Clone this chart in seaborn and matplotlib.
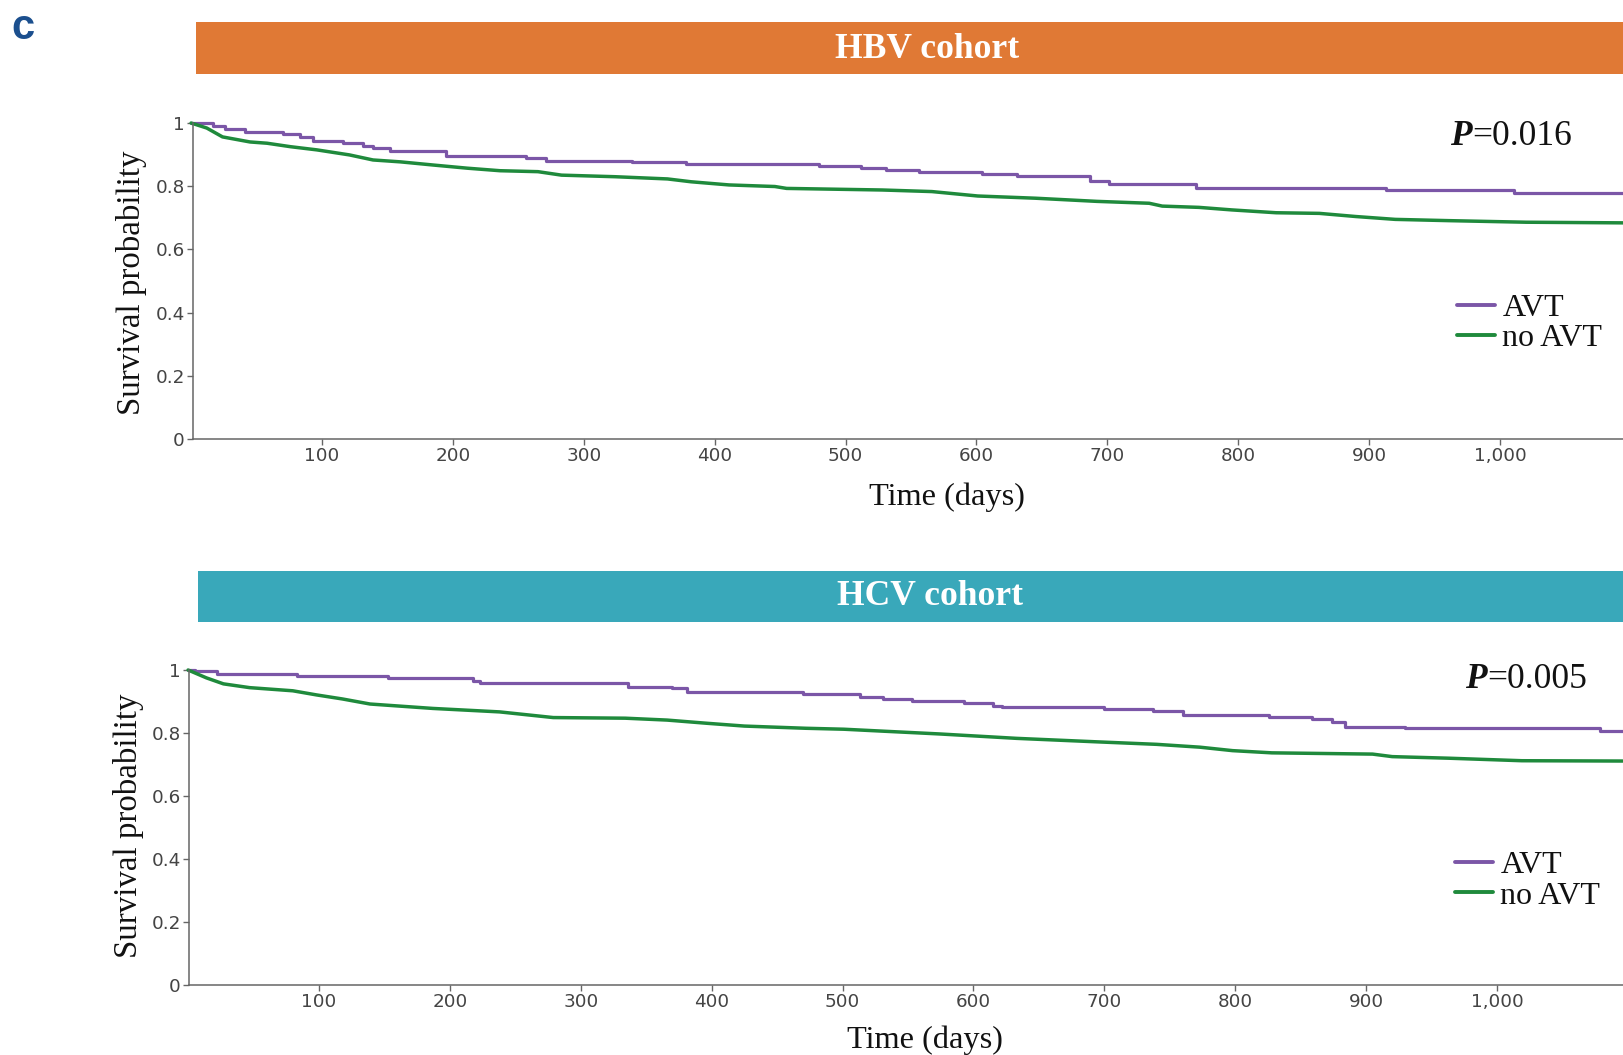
import matplotlib
matplotlib.use("Agg")
import matplotlib.pyplot as plt
from matplotlib.patches import Rectangle
from matplotlib.ticker import FixedLocator, FuncFormatter
import pandas as pd
import seaborn as sns

# ---- data (days, survival probability) ----
hbv_avt_days = [0, 17, 26, 41, 70, 83, 93, 116, 131, 139, 152, 195, 256, 271, 337, 378,
                480, 512, 531, 556, 604, 631, 687, 701, 768, 913, 1011, 1094]
hbv_avt_surv = [1.0, 0.99, 0.98, 0.97, 0.965, 0.955, 0.943, 0.937, 0.927, 0.92, 0.91, 0.896,
                0.888, 0.881, 0.877, 0.871, 0.864, 0.858, 0.851, 0.846, 0.839, 0.832, 0.816,
                0.807, 0.794, 0.788, 0.778, 0.778]

hbv_noavt_days = [0, 12, 24, 45, 58, 76, 96, 121, 139, 160, 185, 211, 236, 265, 283, 324, 364,
                  382, 411, 446, 455, 528, 566, 601, 645, 692, 732, 742, 770, 795, 829, 862,
                  890, 920, 961, 1020, 1094]
hbv_noavt_surv = [1.0, 0.984, 0.956, 0.94, 0.936, 0.925, 0.915, 0.899, 0.883, 0.877, 0.867,
                  0.857, 0.849, 0.846, 0.835, 0.83, 0.823, 0.814, 0.804, 0.799, 0.793, 0.788,
                  0.783, 0.769, 0.762, 0.752, 0.746, 0.737, 0.733, 0.725, 0.716, 0.714, 0.704,
                  0.695, 0.691, 0.686, 0.684]

hcv_avt_days = [0, 5, 22, 83, 153, 218, 223, 336, 370, 381, 470, 513, 531, 553, 593, 615, 622,
                700, 737, 760, 826, 859, 874, 884, 930, 1079, 1096]
hcv_avt_surv = [1.0, 0.997, 0.986, 0.981, 0.976, 0.966, 0.96, 0.947, 0.943, 0.931, 0.923,
                0.915, 0.908, 0.902, 0.894, 0.887, 0.882, 0.876, 0.870, 0.857, 0.850, 0.843,
                0.834, 0.82, 0.815, 0.807, 0.807]

hcv_noavt_days = [0, 14, 27, 47, 80, 98, 118, 139, 187, 238, 279, 334, 366, 396, 425, 472, 501,
                  530, 574, 612, 633, 694, 740, 773, 798, 828, 905, 920, 963, 1019, 1096]
hcv_noavt_surv = [1.0, 0.975, 0.956, 0.944, 0.934, 0.921, 0.908, 0.892, 0.878, 0.867, 0.849,
                  0.847, 0.841, 0.831, 0.822, 0.815, 0.812, 0.806, 0.797, 0.788, 0.783, 0.772,
                  0.764, 0.755, 0.744, 0.737, 0.733, 0.725, 0.720, 0.712, 0.711]

cohorts = ["HBV cohort", "HCV cohort"]
p_values = ["=0.016", "=0.005"]
x_ticks = [100, 200, 300, 400, 500, 600, 700, 800, 900, 1000]
y_ticks = [0, 0.2, 0.4, 0.6, 0.8, 1.0]

PURPLE = "#7b56a7"
GREEN = "#1f8a3c"
BANNER = ["#e07935", "#39a8ba"]
SERIF = "Liberation Serif"

sns.set_theme(style="white")
plt.rcParams.update({"font.family": ["DejaVu Sans"], "axes.linewidth": 1.1})

W, H = 1623, 1055
fig = plt.figure(figsize=(W / 100, H / 100), dpi=100)


def fx(x):
    return x / W


def fy(y):
    return 1 - y / H


# pixel layout of each panel: axes box, x-limits, banner, texts
layout = [
    dict(ax=(193, 123, 1623, 439), xlim=(1.45, 1094), banner=(196, 22, 74),
         title=(927.5, 57.7), ylab=(131.5, 283), xlab=(946.5, 505),
         p=(1472, 145), leg=(1457, 293.5)),
    dict(ax=(189, 670, 1623, 985), xlim=(0.7, 1096.3), banner=(198, 571, 622),
         title=(930, 605), ylab=(129, 825.5), xlab=(924.5, 1047.7),
         p=(1487, 688), leg=(1455, 850.5)),
]

series = [
    (hbv_avt_days, hbv_avt_surv, hbv_noavt_days, hbv_noavt_surv),
    (hcv_avt_days, hcv_avt_surv, hcv_noavt_days, hcv_noavt_surv),
]

for i, lay in enumerate(layout):
    x0, y0, x1, y1 = lay["ax"]
    ax = fig.add_axes([fx(x0), fy(y1), (x1 - x0) / W, (y1 - y0) / H])

    avt_d, avt_s, no_d, no_s = series[i]
    avt = pd.DataFrame({"days": avt_d, "surv": avt_s})
    noavt = pd.DataFrame({"days": no_d, "surv": no_s})
    sns.lineplot(data=avt, x="days", y="surv", ax=ax, color=PURPLE, lw=2.3,
                 drawstyle="steps-post", estimator=None, label="AVT", clip_on=False)
    sns.lineplot(data=noavt, x="days", y="surv", ax=ax, color=GREEN, lw=2.5,
                 estimator=None, label="no AVT", clip_on=False)

    ax.set_xlim(*lay["xlim"])
    ax.set_ylim(0, 1)
    ax.xaxis.set_major_locator(FixedLocator(x_ticks))
    ax.yaxis.set_major_locator(FixedLocator(y_ticks))
    ax.xaxis.set_major_formatter(FuncFormatter(lambda v, _: f"{int(v):,}"))
    ax.yaxis.set_major_formatter(FuncFormatter(lambda v, _: f"{v:g}"))
    ax.tick_params(axis="both", direction="out", length=4.5, width=1.0, pad=1.5,
                   labelsize=13.2, colors="#666666", labelcolor="#444444",
                   bottom=True, left=True)
    for side in ["top", "right"]:
        ax.spines[side].set_visible(False)
    for side in ["left", "bottom"]:
        ax.spines[side].set_color("#666666")

    ax.set_xlabel("Time (days)", family=SERIF, fontsize=23.3, color="#111111",
                  va="baseline", ha="center")
    ax.xaxis.set_label_coords(fx(lay["xlab"][0]), fy(lay["xlab"][1]), transform=fig.transFigure)
    ax.set_ylabel("Survival probability", family=SERIF, fontsize=23.7, color="#111111",
                  va="center", ha="center")
    ax.yaxis.set_label_coords(fx(lay["ylab"][0]), fy(lay["ylab"][1]), transform=fig.transFigure)

    leg = ax.legend(loc="upper left", bbox_to_anchor=(fx(lay["leg"][0]), fy(lay["leg"][1])),
                    bbox_transform=fig.transFigure, frameon=False, borderpad=0,
                    borderaxespad=0, handlelength=1.2, handletextpad=0.22,
                    labelspacing=0.04, prop={"family": SERIF, "size": 23})
    for line in leg.get_lines():
        line.set_linewidth(2.8)
    for t in leg.get_texts():
        t.set_color("#111111")

    # P value
    px, py = lay["p"]
    fig.text(fx(px), fy(py), "P", family=SERIF, style="italic", weight="bold",
             fontsize=25.5, ha="right", va="baseline", color="#111111")
    fig.text(fx(px), fy(py), p_values[i], family=SERIF, fontsize=25.5,
             ha="left", va="baseline", color="#111111")

    # cohort banner
    bx, by0, by1 = lay["banner"]
    fig.patches.append(Rectangle((fx(bx), fy(by1)), 1.0, (by1 - by0) / H,
                                 transform=fig.transFigure, color=BANNER[i], lw=0, zorder=0))
    fig.text(fx(lay["title"][0]), fy(lay["title"][1]), cohorts[i], family=SERIF,
             weight="bold", fontsize=25.6, color="white", ha="center", va="baseline")

fig.text(fx(11.5), fy(39), "c", family="Liberation Sans", weight="bold", fontsize=30,
         color="#1b4f8e", ha="left", va="baseline")

fig.savefig("out.png", dpi=100)
